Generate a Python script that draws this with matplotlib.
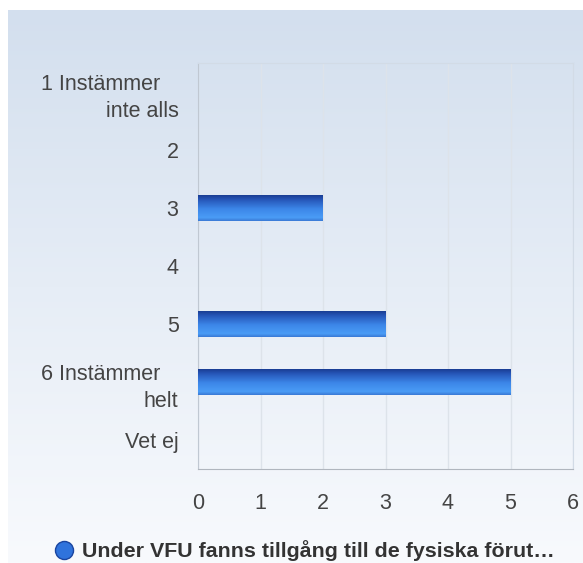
import numpy as np
import matplotlib.pyplot as plt
from matplotlib.colors import LinearSegmentedColormap
from matplotlib.lines import Line2D

categories = ['1 Instämmer   \ninte alls', '2', '3', '4', '5', '6 Instämmer   \nhelt', 'Vet ej']
values = [0, 0, 2, 0, 3, 5, 0]
x_ticks = [0, 1, 2, 3, 4, 5, 6]
legend_label = 'Under VFU fanns tillgång till de fysiska förut…'

plt.rcParams['font.family'] = ['Liberation Sans', 'DejaVu Sans']

W, H = 583, 563
fig = plt.figure(figsize=(W / 100, H / 100), dpi=100, facecolor='white')

# bakgrund med gradient
bg = fig.add_axes([8 / W, 0, 1 - 8 / W, 1 - 10 / H])
bg.set_axis_off()
bg_cmap = LinearSegmentedColormap.from_list('bg', ['#d3dfee', '#e6edf6', '#f8fafd'])
bg.imshow(np.linspace(0, 1, 256).reshape(-1, 1), aspect='auto', cmap=bg_cmap,
          extent=(0, 1, 0, 1))
bg.set_xlim(0, 1)
bg.set_ylim(0, 1)

ax = fig.add_axes([198 / W, 94 / H, 375 / W, 406 / H])
ax.patch.set_alpha(0)

y = np.arange(len(categories))
bars = ax.barh(y, values, height=0.45, color='none', edgecolor='none', zorder=3)

# mörk överkant, ljusare nederdel
bar_cmap = LinearSegmentedColormap.from_list(
    'bar', [(0.0, '#17388c'), (0.2, '#2656b8'), (0.55, '#3c86e8'),
            (0.88, '#4a9cf6'), (1.0, '#3a7ad6')])
grad = np.linspace(0, 1, 64).reshape(-1, 1)
for b in bars:
    w = b.get_width()
    if w <= 0:
        continue
    x0, y0, h = b.get_x(), b.get_y(), b.get_height()
    im = ax.imshow(grad, aspect='auto', cmap=bar_cmap, origin='upper',
                   extent=(x0, x0 + w, y0 + h, y0), zorder=3)
    im.set_clip_path(b)

ax.set_xlim(0, 6)
ax.set_ylim(len(categories) - 0.5, -0.5)
ax.set_xticks(x_ticks)
ax.set_xticklabels([str(t) for t in x_ticks])
ax.set_yticks(y)
ax.set_yticklabels(categories, ha='right', linespacing=1.4)
ax.tick_params(axis='both', length=0, labelsize=15.5, labelcolor='#444444')
ax.tick_params(axis='x', pad=17)
ax.tick_params(axis='y', pad=14)

ax.grid(axis='x', color='#dde3ea', linewidth=1, zorder=0)
ax.set_axisbelow(True)
for side in ['top', 'right']:
    ax.spines[side].set_color('#d2dbe6')
ax.spines['left'].set_color('#c0c8d2')
ax.spines['bottom'].set_color('#b0b6be')

handle = Line2D([], [], marker='o', linestyle='none', markersize=13,
                markerfacecolor='#2f73dc', markeredgecolor='#1a45a0', markeredgewidth=1)
leg = fig.legend([handle], [legend_label], loc='center', bbox_to_anchor=(304 / W, 1 - 551 / H),
                 frameon=False, handletextpad=0.35, handlelength=1.0,
                 prop={'weight': 'bold', 'size': 15.4})
for t in leg.get_texts():
    t.set_color('#333333')

fig.savefig('out.png', dpi=100)
